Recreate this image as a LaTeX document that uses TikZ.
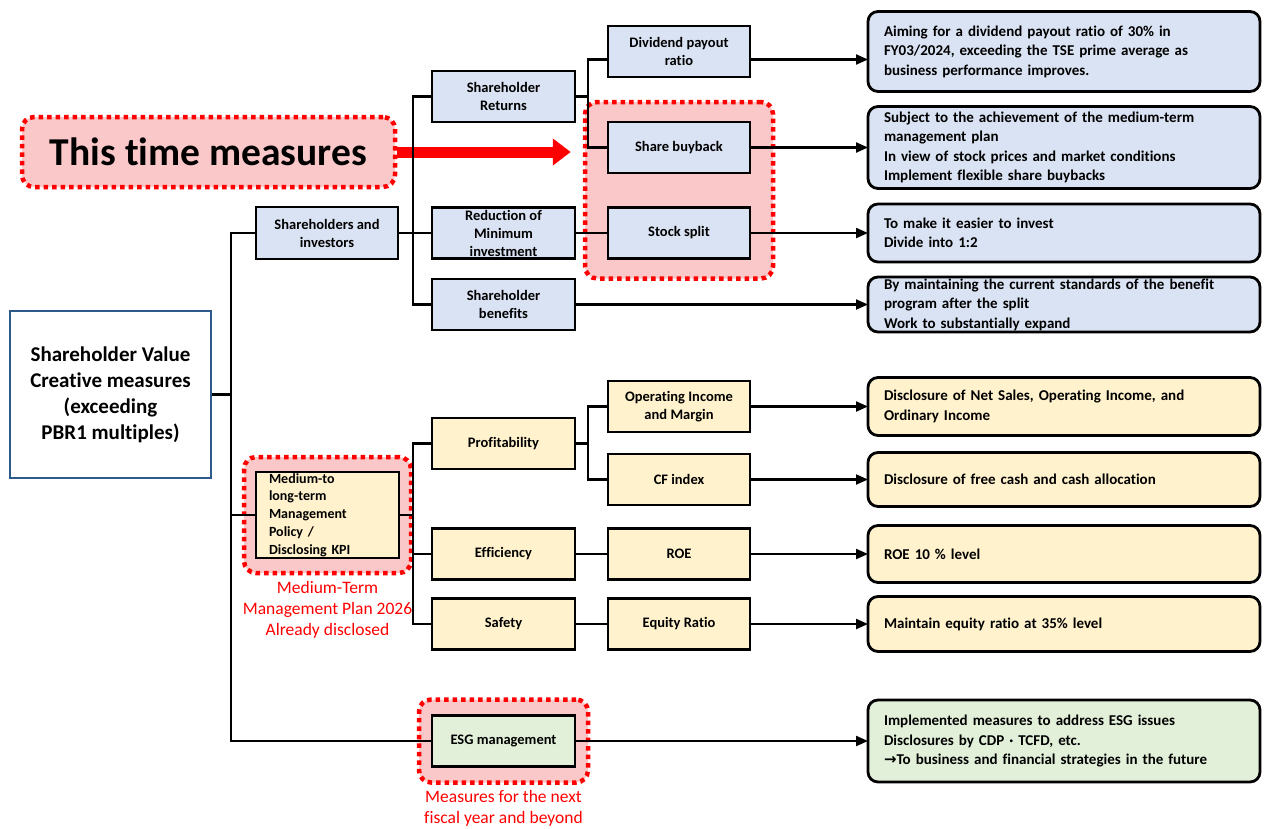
\documentclass[tikz,border=0pt]{standalone}
\usepackage{fontspec}
\setmainfont{Carlito}[Ligatures=NoCommon]
\newfontfamily\symfont{DejaVu Sans}
\usetikzlibrary{positioning,fit,backgrounds,arrows.meta,calc}
\definecolor{holderblue}{RGB}{218,227,243}
\definecolor{kpiyellow}{RGB}{255,242,204}
\definecolor{esggreen}{RGB}{226,240,217}
\definecolor{markpink}{RGB}{250,200,200}
\definecolor{markred}{RGB}{255,0,0}
\definecolor{rootblue}{RGB}{46,89,140}

\begin{document}
\begin{tikzpicture}[
        x=1pt, y=-1pt,
        line width=2.2pt,
        tbox/.style={rectangle, draw, line width=2.2pt, fill=#1, text=black,
            minimum width=143pt,
            minimum height=51pt, inner sep=0pt, outer sep=0pt,
            align=center, font=\fontsize{14.5}{18}\selectfont\bfseries},
        remark/.style={rectangle, rounded corners=10pt, draw, line width=2.8pt, fill=#1,
            minimum width=392pt, text width=360pt, inner xsep=16pt, inner ysep=1pt, outer sep=0pt,
            align=left, font=\fontsize{15}{19.5}\selectfont\bfseries},
        hilite/.style={rectangle, rounded corners=12pt, draw=markred, fill=markpink,
            line width=4.5pt, dash pattern=on 4.5pt off 4pt},
        flow/.style={-{Triangle[length=12pt,width=10pt]}},
        redcap/.style={text=markred, align=center, font=\fontsize{17.5}{21}\selectfont}
    ]
        \useasboundingbox (0,0) rectangle (1264,828);

        \node[draw=rootblue, line width=2pt, fill=white, minimum width=201pt, minimum height=167pt,
            align=center, font=\fontsize{21}{26}\selectfont\bfseries] (root) at (110.5,394.5)
            {Shareholder Value\\Creative measures\\(exceeding\\PBR1 multiples)};

        \node[tbox=holderblue, minimum width=142pt, minimum height=52pt] (inv) at (327,233) {Shareholders and\\investors};
        \node[tbox=kpiyellow, minimum height=86pt, text width=117pt, align=left,
            font=\fontsize{14}{17.8}\selectfont\bfseries] (kpi) at (327.5,515)
            {Medium-to\\long-term\\Management\\Policy /\\Disclosing KPI};

        % shareholders and investors
        \node[tbox=holderblue] (ret) at (503.5,96.5) {Shareholder\\Returns};
        \node[tbox=holderblue, right=34pt of inv] (red) {Reduction of\\Minimum\\investment};
        \node[tbox=holderblue, below=20.5pt of red] (ben) {Shareholder\\benefits};
        \node[tbox=holderblue, minimum width=142pt] (div) at (679,51.5) {Dividend payout\\ratio};
        \node[tbox=holderblue, minimum width=142pt] (buy) at (679,147.5) {Share buyback};
        \node[tbox=holderblue, minimum width=142pt, right=33pt of red] (split) {Stock split};

        % medium-term policy
        \node[tbox=kpiyellow] (prof) at (503.5,443.5) {Profitability};
        \node[tbox=kpiyellow] (eff) at (503.5,554) {Efficiency};
        \node[tbox=kpiyellow, below=19pt of eff] (saf) {Safety};
        \node[tbox=kpiyellow, minimum width=142pt] (opi) at (679,406.5) {Operating Income\\and Margin};
        \node[tbox=kpiyellow, minimum width=142pt, below=22pt of opi] (cf) {CF index};
        \node[tbox=kpiyellow, minimum width=142pt, right=33pt of eff] (roe) {ROE};
        \node[tbox=kpiyellow, minimum width=142pt, right=33pt of saf] (eqr) {Equity Ratio};

        % ESG
        \node[tbox=esggreen] (esg) at (503.5,741) {ESG management};

        \node[remark=holderblue, minimum height=80pt, right=118pt of div] (r1)
            {Aiming for a dividend payout ratio of 30\% in\\FY03/2024, exceeding the TSE prime average as\\business performance improves.};
        \node[remark=holderblue, minimum height=82pt, right=118pt of buy] (r2)
            {Subject to the achievement of the medium-term\\management plan\\In view of stock prices and market conditions\\Implement flexible share buybacks};
        \node[remark=holderblue, minimum height=58pt, right=118pt of split] (r3)
            {To make it easier to invest\\Divide into 1:2};
        \node[remark=holderblue, minimum height=55pt, inner ysep=0pt, right=293pt of ben] (r4)
            {By maintaining the current standards of the benefit\\program after the split\\Work to substantially expand};
        \node[remark=kpiyellow, minimum height=58pt, right=118pt of opi] (r5)
            {Disclosure of Net Sales, Operating Income, and\\Ordinary Income};
        \node[remark=kpiyellow, minimum height=54pt, right=118pt of cf] (r6)
            {Disclosure of free cash and cash allocation};
        \node[remark=kpiyellow, minimum height=57pt, right=118pt of roe] (r7)
            {ROE 10 \% level};
        \node[remark=kpiyellow, minimum height=55pt, right=118pt of eqr] (r8)
            {Maintain equity ratio at 35\% level};
        \node[remark=esggreen, minimum height=82pt, right=293pt of esg] (r9)
            {Implemented measures to address ESG issues\\Disclosures by CDP · TCFD, etc.\\{\symfont →}To business and financial strategies in the future};

        \begin{scope}[on background layer]
            \node[hilite, fit=(buy)(split), inner xsep=23pt, inner ysep=20pt] (hlnow) {};
            \node[hilite, fit=(kpi), inner xsep=12pt, inner ysep=15pt] (hlkpi) {};
            \node[hilite, fit=(esg), inner xsep=13pt, inner ysep=16pt] (hlesg) {};
        \end{scope}

        \node[hilite, minimum width=373pt, minimum height=70pt,
            font=\fontsize{39.5}{42}\selectfont\bfseries] (now) at (208.5,152) {This time measures};
        \draw[markred, line width=11pt, -{Triangle[length=18pt,width=26pt]}]
            (now.east) -- ([xshift=-12pt]hlnow.west |- now.east);

        \node[redcap, below=2pt of hlkpi] (capkpi) {Medium-Term\\Management Plan 2026\\Already disclosed};
        \node[redcap, below=1pt of hlesg] (capesg) {Measures for the next\\fiscal year and beyond};

        % tree lines
        \coordinate (trunk) at (231,0);
        \coordinate (busa) at (413,0);
        \coordinate (busb) at (588,0);
        \draw (root.east) -- (root.east -| trunk);
        \draw (inv.west) -- (inv.west -| trunk) -- (esg.west -| trunk) -- (esg.west);
        \draw (kpi.west) -- (kpi.west -| trunk);
        \draw (inv.east) -- (red.west);
        \draw (ret.west) -- (ret.west -| busa) -- (ben.west -| busa) -- (ben.west);
        \draw (ret.east) -- (ret.east -| busb);
        \draw ([yshift=-8pt]div.west) -- ([yshift=-8pt]div.west -| busb) -- (buy.west -| busb) -- (buy.west);
        \draw (red.east) -- (split.west);
        \draw (kpi.east) -- (kpi.east -| busa);
        \draw (prof.west) -- (prof.west -| busa) -- (saf.west -| busa) -- (saf.west);
        \draw (eff.west) -- (eff.west -| busa);
        \draw (prof.east) -- (prof.east -| busb);
        \draw (opi.west) -- (opi.west -| busb) -- (cf.west -| busb) -- (cf.west);
        \draw (eff.east) -- (roe.west);
        \draw (saf.east) -- (eqr.west);

        \draw[flow] ([yshift=-8pt]div.east) -- ([yshift=-8pt]div.east -| r1.west);
        \draw[flow] (buy.east) -- (buy.east -| r2.west);
        \draw[flow] (split.east) -- (split.east -| r3.west);
        \draw[flow] (ben.east) -- (ben.east -| r4.west);
        \draw[flow] (opi.east) -- (opi.east -| r5.west);
        \draw[flow] (cf.east) -- (cf.east -| r6.west);
        \draw[flow] (roe.east) -- (roe.east -| r7.west);
        \draw[flow] (eqr.east) -- (eqr.east -| r8.west);
        \draw[flow] (esg.east) -- (esg.east -| r9.west);
    \end{tikzpicture}
\end{document}
